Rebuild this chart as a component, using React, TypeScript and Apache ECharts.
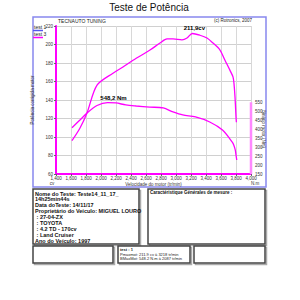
import React, { useEffect, useRef } from "react";
import * as echarts from "echarts";

const rpmPower = [1613, 1720, 1813, 1947, 2160, 2293, 2427, 2653, 2787, 2880, 2960, 3080, 3147, 3218, 3320, 3413, 3493, 3587, 3653, 3720, 3760, 3773, 3787, 3800, 3805];
const power = [96, 109.7, 126, 156, 169, 175.7, 183, 194, 201.6, 206, 206, 205, 207, 211.9, 210, 207, 201.6, 194, 183, 172, 165, 158, 143, 122, 116];
const rpmTorque = [1613, 1720, 1813, 1947, 2087, 2200, 2330, 2470, 2650, 2830, 2960, 3090, 3260, 3450, 3620, 3750, 3770, 3790, 3800, 3810];
const torque = [408, 451, 490, 532, 548.2, 546, 535, 529, 523, 518, 496, 479, 468, 440, 395, 328, 312, 284, 256, 228];
const torqueTicks = [150, 200, 250, 300, 350, 400, 450, 500, 550];
const powerLabel = "211,9cv";
const torqueLabel = "548,2 Nm";

const infoLines = [
  "Nome do Teste: Teste14_11_17_",
  "14h25min44s",
  "Data doTeste: 14/11/17",
  "Proprietário do Veículo: MIGUEL LOURO",
  " : 27-04-ZX",
  " : TOYOTA",
  " : 4.2 TD - 170cv",
  " : Land Cruiser",
  "Ano do Veículo: 1997",
];
const testLines = [
  "test : 1",
  "Pmaxmot: 211.9 cv à 3218 tr/min",
  "BMaxMot: 548.2 N.m à 2087 tr/min",
];

const MAG = "#ff00ff";
const FONT = "Liberation Sans, Arial, sans-serif";

function box(x: number, y: number, w: number, h: number) {
  return [
    { type: "rect", shape: { x: x + 1.5, y: y + 1.5, width: w, height: h }, style: { fill: "none", stroke: "#aaaaaa", lineWidth: 1.5 }, silent: true },
    { type: "rect", shape: { x, y, width: w, height: h }, style: { fill: "#fff", stroke: "#444", lineWidth: 1.5 }, silent: true },
  ];
}

function peakMark(text: string, offset: number[]) {
  return {
    symbol: "circle",
    symbolSize: 0,
    silent: true,
    data: [{ type: "max", valueDim: "y" }],
    label: { show: true, position: "top", formatter: text, fontSize: 6, fontWeight: "bold", color: "#000", fontFamily: FONT, distance: 2, offset },
  };
}

export default function App() {
  const ref = useRef<HTMLDivElement>(null);
  useEffect(() => {
    const chart = echarts.init(ref.current!, null, { renderer: "svg" });
    const powerData = rpmPower.map((r, i) => [r, power[i]]);
    const torqueData = rpmTorque.map((r, i) => [r, torque[i]]);
    const graphic: any[] = [];
    graphic.push({ type: "rect", shape: { x: 33, y: 17, width: 233, height: 170 }, style: { fill: "none", stroke: "#8888ee", lineWidth: 1.5 }, silent: true, z: -10 });
    graphic.push({ type: "text", x: 149, y: 7, style: { text: "Teste de Potência", fontSize: 10, fontFamily: FONT, fill: "#111", align: "center", verticalAlign: "middle" } });
    graphic.push({ type: "text", x: 58, y: 21, style: { text: "TECNAUTO TUNING", fontSize: 5, fontFamily: FONT, fill: "#222", align: "left", verticalAlign: "middle" } });
    graphic.push({ type: "text", x: 252, y: 20, style: { text: "(c) Rotronics, 2007", fontSize: 4.5, fontFamily: FONT, fill: "#222", align: "right", verticalAlign: "middle" } });
    graphic.push({ type: "text", x: 34, y: 27, style: { text: "test 1", fontSize: 5, fontFamily: FONT, fill: "#222", align: "left", verticalAlign: "middle" } });
    graphic.push({ type: "line", shape: { x1: 33, y1: 30.5, x2: 43, y2: 30.5 }, style: { stroke: "#5555ee", lineWidth: 1.5 } });
    graphic.push({ type: "text", x: 34, y: 34, style: { text: "test 3", fontSize: 5, fontFamily: FONT, fill: "#222", align: "left", verticalAlign: "middle" } });
    graphic.push({ type: "line", shape: { x1: 33, y1: 37.5, x2: 43, y2: 37.5 }, style: { stroke: MAG, lineWidth: 1.5 } });
    graphic.push({ type: "text", x: 52, y: 183.5, style: { text: "cv", fontSize: 4.5, fontFamily: FONT, fill: "#333", align: "center", verticalAlign: "middle" } });
    graphic.push({ type: "text", x: 255, y: 183.5, style: { text: "N.m", fontSize: 4.5, fontFamily: FONT, fill: "#333", align: "center", verticalAlign: "middle" } });
    graphic.push({ type: "text", x: 263, y: 129, rotation: -Math.PI / 2, style: { text: "Binário motor (Nm)", fontSize: 4.5, fontFamily: FONT, fill: "#333", align: "center", verticalAlign: "middle" } });
    graphic.push(...box(33, 189, 106, 55));
    infoLines.forEach((t, i) => {
      graphic.push({ type: "text", x: 35, y: 193.5 + i * 5.9, style: { text: t, fontSize: 5.5, fontWeight: "bold", fontFamily: FONT, fill: "#111", align: "left", verticalAlign: "middle" } });
    });
    graphic.push(...box(148, 189, 117, 55));
    graphic.push({ type: "text", x: 150, y: 192.5, style: { text: "Caractéristique Générales de mesure :", fontSize: 4.5, fontWeight: "bold", fontFamily: FONT, fill: "#111", align: "left", verticalAlign: "middle" } });
    graphic.push(...box(33, 246, 80, 17));
    graphic.push(...box(118, 246, 72, 17));
    testLines.forEach((t, i) => {
      graphic.push({ type: "text", x: 120, y: 249.5 + i * 4.5, style: { text: t, fontSize: 4, fontWeight: i === 0 ? "bold" : "normal", fontFamily: FONT, fill: "#222", align: "left", verticalAlign: "middle" } });
    });
    graphic.push(...box(194, 246, 71, 17));

    chart.setOption({
      animation: false,
      backgroundColor: "#fff",
      grid: { left: 56, right: 49, top: 26, bottom: 126, containLabel: false },
      graphic,
      xAxis: {
        type: "value", min: 1400, max: 4000, interval: 200,
        name: "Velocidade do motor (tr/min)", nameLocation: "middle", nameGap: 8,
        nameTextStyle: { fontSize: 4.5, fontFamily: FONT, color: "#333" },
        axisLine: { lineStyle: { color: MAG, width: 2 } },
        axisTick: { show: true, length: 2, lineStyle: { color: "#666" } },
        axisLabel: { fontSize: 4.5, fontFamily: FONT, color: "#333", margin: 1.5 },
        splitLine: { show: true, lineStyle: { color: "#d8d8d8", width: 1 } },
      },
      yAxis: [
        {
          type: "value", min: 60, max: 220, interval: 20, position: "left",
          name: "Potência corrigida motor", nameLocation: "middle", nameGap: 10, nameRotate: 90,
          nameTextStyle: { fontSize: 4.5, fontFamily: FONT, color: "#333" },
          axisLine: { show: true, lineStyle: { color: MAG, width: 2 } },
          axisTick: { show: true, length: 2, lineStyle: { color: "#666" } },
          axisLabel: { fontSize: 4.5, fontFamily: FONT, color: "#333", margin: 3 },
          splitLine: { show: true, lineStyle: { color: "#d0d0d0", width: 1 } },
        },
        {
          type: "value", min: 150, max: 975, interval: 50, position: "right",
          axisLine: { show: false },
          axisTick: { show: false },
          axisLabel: {
            fontSize: 4.5, fontFamily: FONT, color: "#333", margin: 4,
            formatter: (v: number) => (v <= torqueTicks[torqueTicks.length - 1] ? String(v) : ""),
          },
          splitLine: { show: false },
        },
      ],
      series: [
        {
          name: "axis", type: "line", yAxisIndex: 1, silent: true, symbol: "none",
          data: [[4000, torqueTicks[0]], [4000, torqueTicks[torqueTicks.length - 1]]],
          lineStyle: { color: "#ff88ff", width: 2.5 }, z: 1,
        },
        {
          name: "test 3", type: "line", yAxisIndex: 0, symbol: "none", smooth: 0.3,
          data: powerData, lineStyle: { color: MAG, width: 1.3 }, itemStyle: { color: MAG }, z: 3,
          markPoint: peakMark(powerLabel, [2, 0]),
        },
        {
          name: "test 3 torque", type: "line", yAxisIndex: 1, symbol: "none", smooth: 0.3,
          data: torqueData, lineStyle: { color: MAG, width: 1.3 }, itemStyle: { color: MAG }, z: 3,
          markPoint: peakMark(torqueLabel, [6, 0]),
        },
      ],
    });
    return () => chart.dispose();
  }, []);
  return <div ref={ref} style={{ position: "fixed", left: 0, top: 0, width: 300, height: 300, background: "#fff" }} />;
}
